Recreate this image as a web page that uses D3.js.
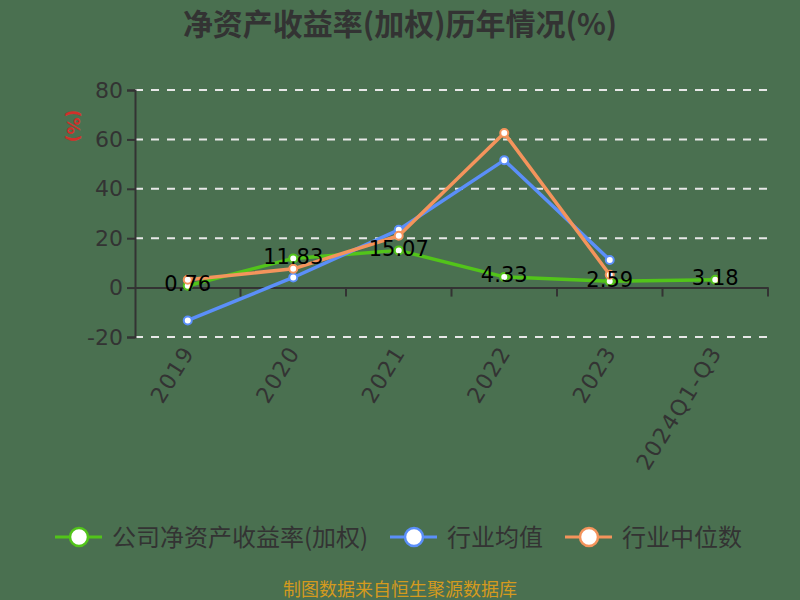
<!DOCTYPE html>
<html>
<head>
<meta charset="utf-8">
<script src="https://cdn.jsdelivr.net/npm/d3@7"></script>
<style>
  html, body { margin: 0; padding: 0; background: #4a7050; }
  svg { display: block; }
</style>
</head>
<body>
<svg id="chart" width="800" height="600"></svg>
<script>
const categories = ['2019', '2020', '2021', '2022', '2023', '2024Q1-Q3'];
const companyRoe = [0.76, 11.83, 15.07, 4.33, 2.59, 3.18];
const industryAvg = [-13.3, 4.1, 23.4, 51.6, 11.2, null];
const industryMedian = [3.2, 7.6, 21.0, 62.6, 5.2, null];
const yTicks = [-20, 0, 20, 40, 60, 80];

const svg = d3.select('#chart');
const font = '"Noto Sans CJK SC", "DejaVu Sans", sans-serif';

const x = d3.scaleBand().domain(categories).range([135, 768]);
const y = d3.scaleLinear().domain([-20, 80]).range([337, 90]);
const cx = d => x(d) + x.bandwidth() / 2;

// title
svg.append('text')
  .attr('x', 400).attr('y', 35)
  .attr('text-anchor', 'middle')
  .attr('font-family', font)
  .attr('font-size', 30)
  .attr('font-weight', 'bold')
  .attr('fill', '#333')
  .text('净资产收益率(加权)历年情况(%)');

// grid
svg.append('g')
  .selectAll('line')
  .data(yTicks.filter(t => t !== 0))
  .join('line')
  .attr('x1', 135).attr('x2', 768)
  .attr('y1', d => y(d)).attr('y2', d => y(d))
  .attr('stroke', '#e8e8e8')
  .attr('stroke-width', 2)
  .attr('stroke-dasharray', '8,8');

// y axis
const yAxis = svg.append('g')
  .attr('transform', 'translate(135,0)')
  .call(d3.axisLeft(y).tickValues(yTicks).tickSize(8).tickPadding(4).tickFormat(d => String(d)));
yAxis.select('.domain').attr('stroke', '#333').attr('stroke-width', 2);
yAxis.selectAll('.tick line').attr('stroke', '#333').attr('stroke-width', 2);
yAxis.selectAll('.tick text')
  .attr('font-family', '"DejaVu Sans", sans-serif')
  .attr('font-size', 22)
  .attr('fill', '#333');

// x axis at zero
const xAxis = svg.append('g')
  .attr('transform', `translate(0,${y(0)})`)
  .call(d3.axisBottom(x).tickSize(0).tickFormat(''));
xAxis.select('.domain').attr('stroke', '#333').attr('stroke-width', 2);
xAxis.selectAll('.tick').remove();
xAxis.selectAll('line.sep')
  .data(categories)
  .join('line')
  .attr('class', 'sep')
  .attr('x1', d => x(d) + x.bandwidth()).attr('x2', d => x(d) + x.bandwidth())
  .attr('y1', 0).attr('y2', 9)
  .attr('stroke', '#333').attr('stroke-width', 2);

// x labels
svg.append('g')
  .selectAll('text')
  .data(categories)
  .join('text')
  .attr('transform', d => `translate(${cx(d) + 1},348) rotate(-58)`)
  .attr('text-anchor', 'end')
  .attr('dy', '0.35em')
  .attr('font-family', '"DejaVu Sans", sans-serif')
  .attr('font-size', 22)
  .attr('letter-spacing', 1.5)
  .attr('fill', '#333')
  .text(d => d);

// y axis unit
svg.append('text')
  .attr('transform', 'translate(67,126) rotate(90)')
  .attr('text-anchor', 'middle')
  .attr('font-family', '"DejaVu Sans", sans-serif')
  .attr('font-size', 17)
  .attr('font-weight', 'bold')
  .attr('fill', '#d0302a')
  .text('(%)');

const series = [
  { name: '公司净资产收益率(加权)', values: companyRoe, color: '#52c41a' },
  { name: '行业均值', values: industryAvg, color: '#5b8ff9' },
  { name: '行业中位数', values: industryMedian, color: '#f4945c' }
];

const line = d3.line()
  .defined(d => d.v !== null)
  .x(d => cx(d.c))
  .y(d => y(d.v));

series.forEach(s => {
  const pts = categories.map((c, i) => ({ c, v: s.values[i] }));
  svg.append('path')
    .datum(pts)
    .attr('d', line)
    .attr('fill', 'none')
    .attr('stroke', s.color)
    .attr('stroke-width', 3.5)
    .attr('stroke-linejoin', 'round');
  svg.append('g')
    .selectAll('circle')
    .data(pts.filter(p => p.v !== null))
    .join('circle')
    .attr('cx', d => cx(d.c))
    .attr('cy', d => y(d.v))
    .attr('r', 4)
    .attr('fill', '#fff')
    .attr('stroke', s.color)
    .attr('stroke-width', 2);
});

// value labels for company series
svg.append('g')
  .selectAll('text')
  .data(categories.map((c, i) => ({ c, v: companyRoe[i] })))
  .join('text')
  .attr('x', d => cx(d.c))
  .attr('y', d => y(d.v) - 2)
  .attr('dy', '0.35em')
  .attr('text-anchor', 'middle')
  .attr('font-family', '"DejaVu Sans", sans-serif')
  .attr('font-size', 21)
  .attr('fill', '#000')
  .text(d => d.v.toFixed(2));

// legend
const legendX = [55, 390, 565];
const legend = svg.append('g')
  .selectAll('g')
  .data(series)
  .join('g')
  .attr('transform', (d, i) => `translate(${legendX[i]},537)`);
legend.append('line')
  .attr('x1', 0).attr('x2', 47)
  .attr('y1', 0).attr('y2', 0)
  .attr('stroke', d => d.color)
  .attr('stroke-width', 3);
legend.append('circle')
  .attr('cx', 24).attr('cy', 0).attr('r', 9)
  .attr('fill', '#fff')
  .attr('stroke', d => d.color)
  .attr('stroke-width', 2.5);
legend.append('text')
  .attr('x', 57).attr('y', 0)
  .attr('dy', '0.36em')
  .attr('font-family', font)
  .attr('font-size', 24)
  .attr('fill', '#333')
  .text(d => d.name);

// source
svg.append('text')
  .attr('x', 400).attr('y', 596)
  .attr('text-anchor', 'middle')
  .attr('font-family', font)
  .attr('font-size', 18)
  .attr('fill', '#d49a1e')
  .text('制图数据来自恒生聚源数据库');
</script>
</body>
</html>
